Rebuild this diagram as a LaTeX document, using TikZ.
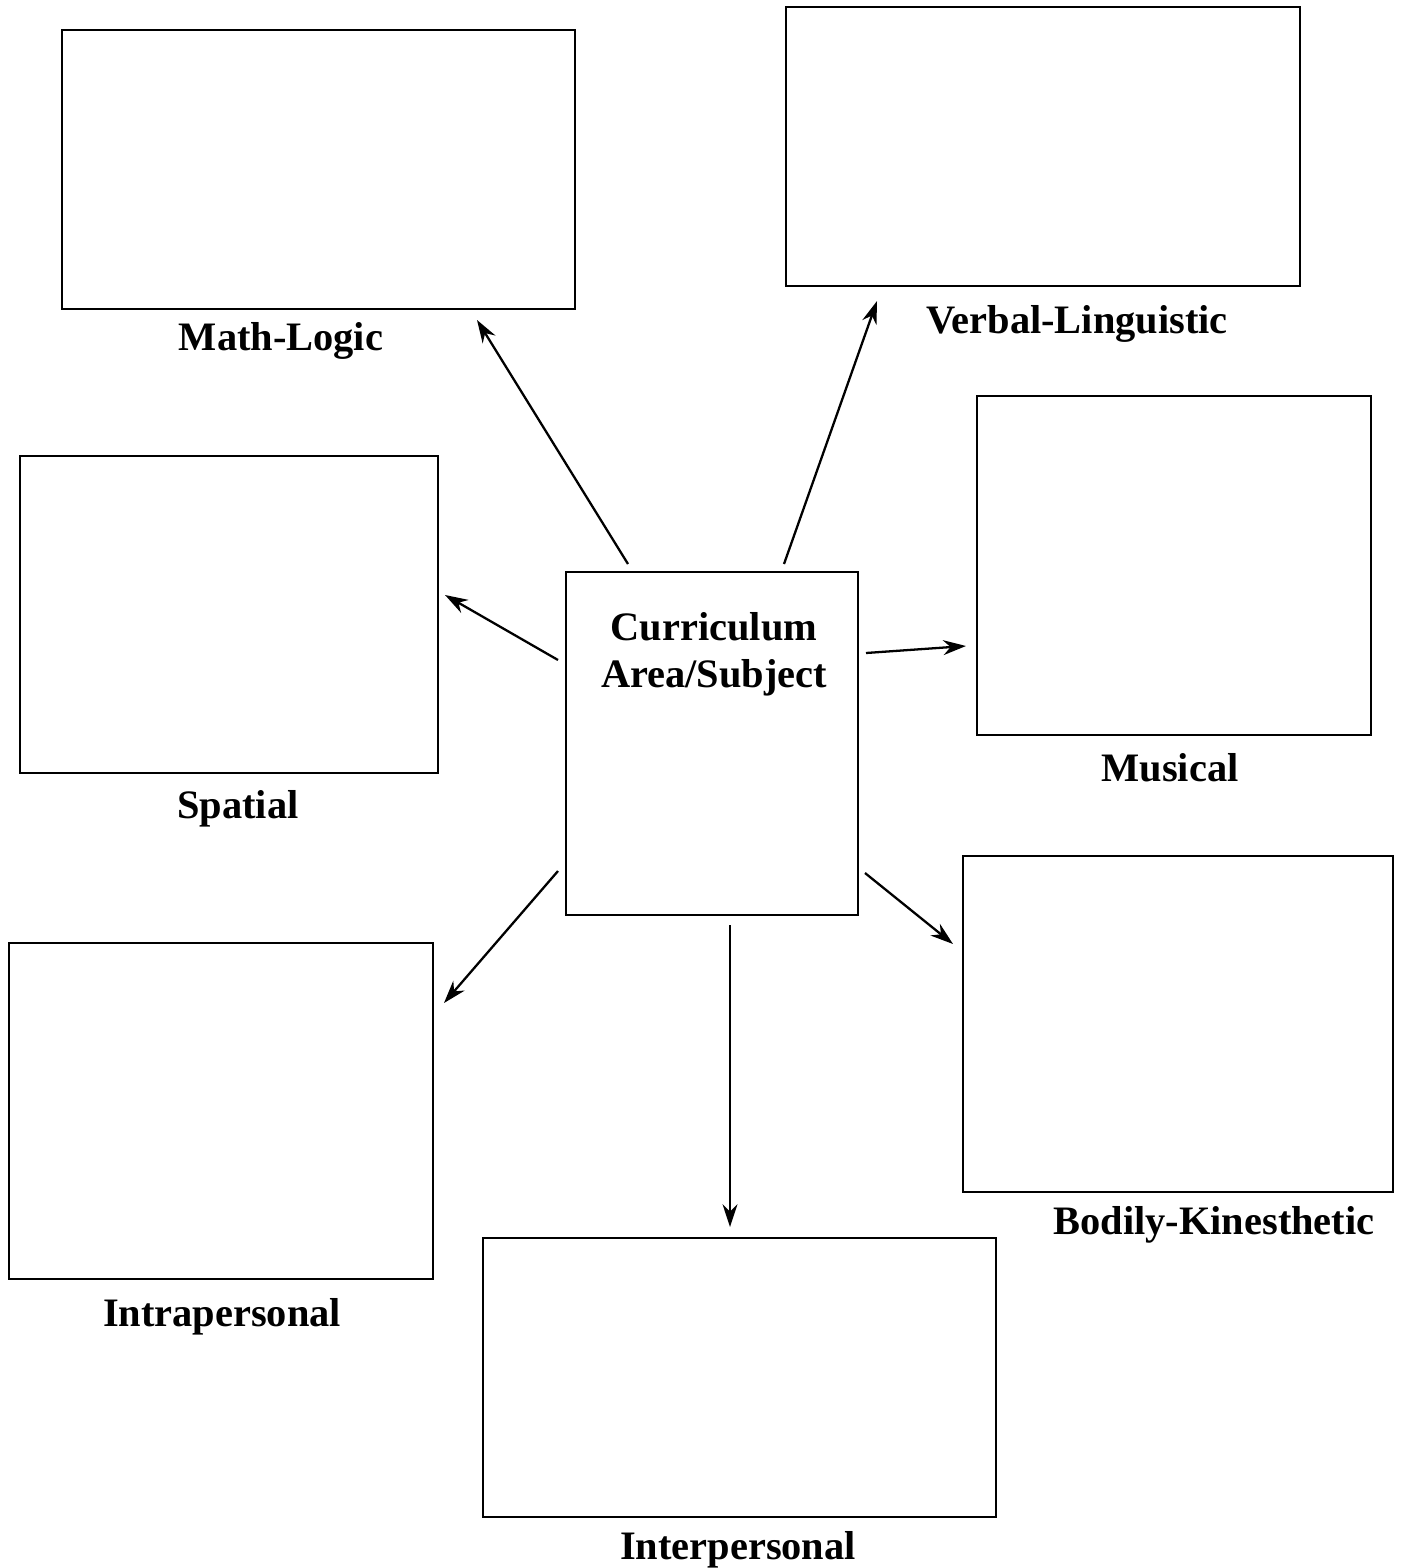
\documentclass[tikz,border=0pt]{standalone}
\usepackage{fontspec}
\setmainfont{Liberation Serif}
\usetikzlibrary{arrows.meta}
\usetikzlibrary{positioning}
\tikzset{mibox/.style={draw=black,line width=1.6pt,inner sep=0pt,fill=white}}
\tikzset{milabel/.style={inner sep=0pt,anchor=base,font=\fontsize{23}{27}\selectfont\bfseries}}
\tikzset{miarrow/.style={line width=1.3pt,-{Stealth[length=13pt,width=8.5pt]}}}

\begin{document}
\begin{tikzpicture}[x=0.02cm,y=-0.02cm]
\useasboundingbox (0,0) rectangle (1403,1568);
% outer boxes with their labels underneath
\foreach \n/\cx/\cy/\w/\h/\by/\lx/\t in {
	math/318.5/169.5/513/279/350/281/Math-Logic,
	verbal/1043/146.5/514/279/333/1077/Verbal-Linguistic,
	spatial/229/614.5/418/317/818/238/Spatial,
	music/1174/565.5/394/339/781/1170/Musical,
	bodily/1178/1024/430/336/1234/1214/Bodily-Kinesthetic,
	intra/221/1111/424/336/1326/222/Intrapersonal,
	inter/739.5/1377.5/513/279/1559/738/Interpersonal} {
	\node[mibox,minimum width=\w*0.02cm,minimum height=\h*0.02cm] (\n) at (\cx,\cy) {};
	\node[milabel] (\n-lab) at (\lx,\by) {\t};
}
% centre box
\node[mibox,minimum width=292*0.02cm,minimum height=343*0.02cm] (subj) at (712,743.5) {};
\node[milabel,anchor=north,align=center] (subj-lab) at (714,612) {Curriculum\\Area/Subject};
% arrow ends
\foreach \n/\ax/\ay/\bx/\by in {
	math/628/564/477/320,
	verbal/784/564/877/301,
	spatial/558/660/445/595,
	music/866/653/966/646,
	intra/558/871/444/1003,
	bodily/865/873/953/944,
	inter/730/925/730/1227} {
	\coordinate (\n-s) at (\ax,\ay);
	\coordinate (\n-e) at (\bx,\by);
	\draw[miarrow] (\n-s) -- (\n-e);
}
\end{tikzpicture}
\end{document}
